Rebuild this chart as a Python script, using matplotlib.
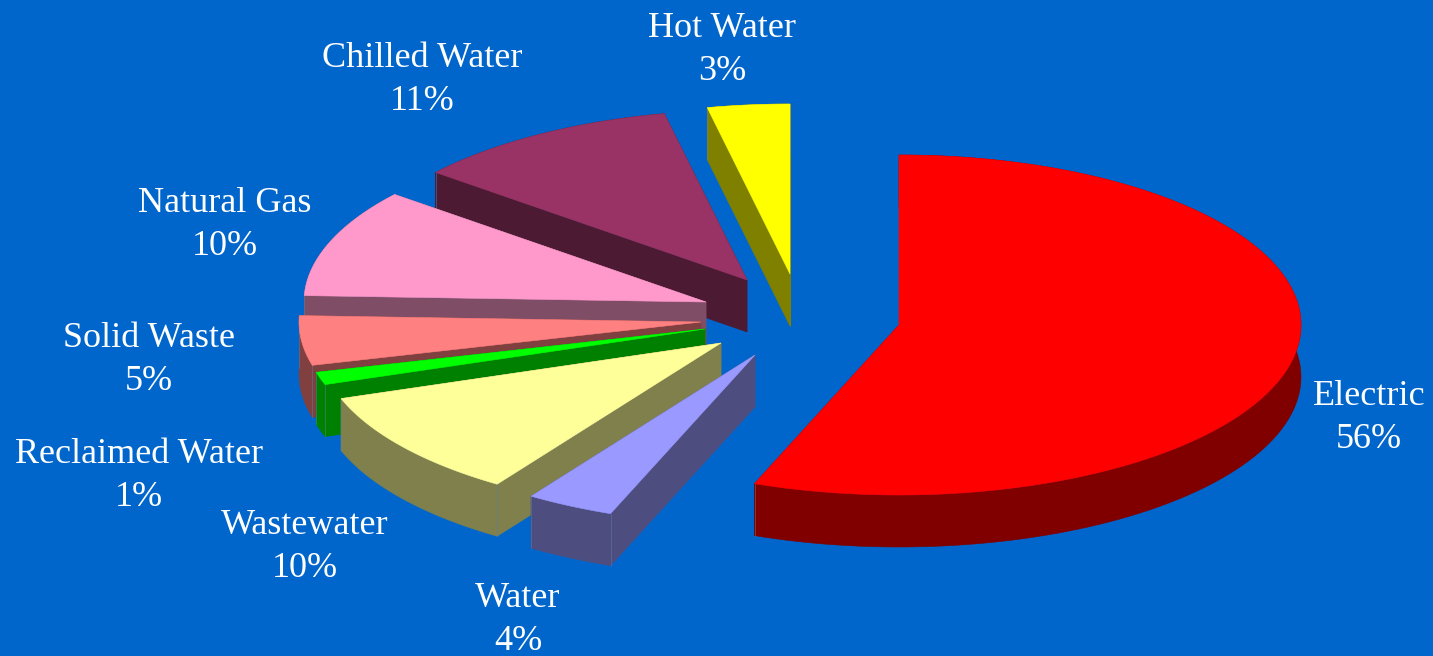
import numpy as np
import matplotlib
matplotlib.use("Agg")
import matplotlib.pyplot as plt
from matplotlib.colors import to_rgb
from matplotlib.patches import Polygon

# values clockwise from 12 o'clock
categories = ["Electric", "Water", "Wastewater", "Reclaimed Water", "Solid Waste",
              "Natural Gas", "Chilled Water", "Hot Water"]
shares = [55.85, 3.55, 10.3, 1.2, 4.7, 10.3, 10.8, 3.3]
colors = ["#FF0000", "#9999FF", "#FFFF99", "#00FF00", "#FF8080", "#FF99CC", "#993366", "#FFFF00"]

# where each exploded slice has its tip, in pixels
tips = [(899, 325), (755, 355), (721, 343), (705, 329), (701, 322), (706, 302), (747, 280), (790, 274)]
label_pos = [(1369, 418), (518, 620), (305, 547), (139, 476), (149, 360), (225, 225), (422, 80), (722, 50)]
draw_order = [7, 6, 5, 4, 3, 2, 1, 0]

BG = "#0066CC"
RX, RY, DEPTH = 402, 170, 52
W, H = 1433, 656


def arc(tip, a0, a1):
    a = np.radians(np.linspace(a0, a1, 120))
    return tip[0] + RX * np.sin(a), tip[1] - RY * np.cos(a)


def side_color(c):
    return tuple(v * 0.5 for v in to_rgb(c))


fig = plt.figure(figsize=(W / 100, H / 100), dpi=100, facecolor=BG)
ax = fig.add_axes([0, 0, 1, 1])
ax.set_xlim(0, W)
ax.set_ylim(H, 0)
ax.axis("off")

edges = np.concatenate([[0], np.cumsum(shares)]) * 360 / sum(shares)

z = 1
for i in draw_order:
    tip = tips[i]
    a0, a1 = edges[i], edges[i + 1]
    xs, ys = arc(tip, a0, a1)
    dark = side_color(colors[i])

    # the two cut faces, then the rim, then the top on top of them
    for x, y in [(xs[0], ys[0]), (xs[-1], ys[-1])]:
        quad = [tip, (x, y), (x, y + DEPTH), (tip[0], tip[1] + DEPTH)]
        ax.add_patch(Polygon(quad, closed=True, fc=dark, ec=dark, lw=0.4, zorder=z))
    rim = np.column_stack([np.r_[xs, xs[::-1]], np.r_[ys, ys[::-1] + DEPTH]])
    ax.add_patch(Polygon(rim, closed=True, fc=dark, ec=dark, lw=0.4, zorder=z + 0.1))
    for x, y in [(xs[0], ys[0]), (xs[-1], ys[-1])]:
        ax.plot([x, x], [y, y + DEPTH], color="#5F7F9F", lw=0.5, alpha=0.7, zorder=z + 0.2)
    top = np.column_stack([np.r_[tip[0], xs], np.r_[tip[1], ys]])
    ax.add_patch(Polygon(top, closed=True, fc=colors[i], ec=colors[i], lw=0.4, zorder=z + 0.3))
    z += 1

for name, share, (x, y) in zip(categories, shares, label_pos):
    ax.text(x, y, f"{name}\n{round(share)}%", color="white", ha="center", va="center",
            family="Liberation Serif", fontsize=26, linespacing=1.4, zorder=z)

fig.savefig("out.png", dpi=100, facecolor=BG)
